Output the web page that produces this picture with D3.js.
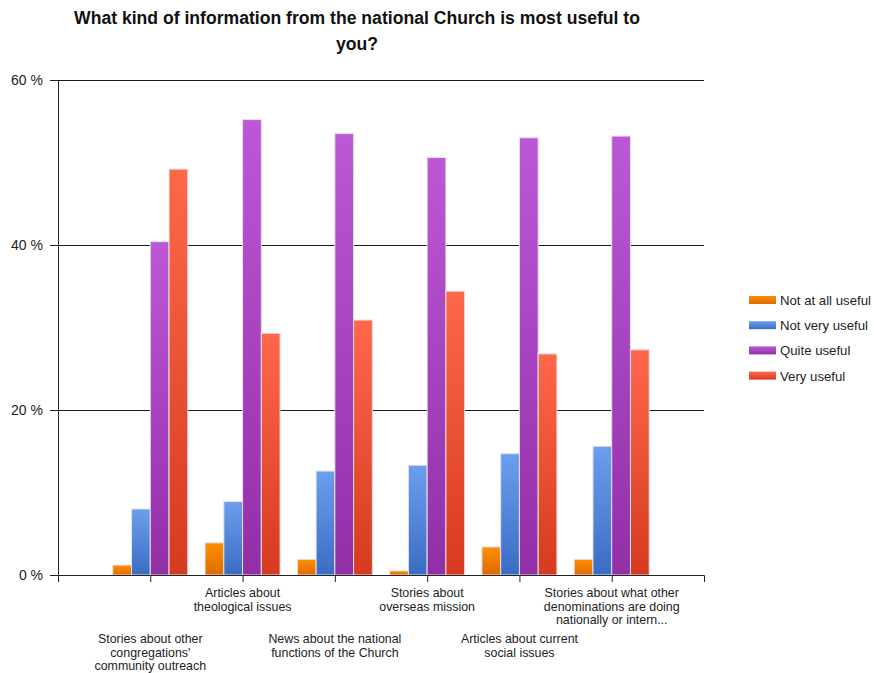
<!DOCTYPE html>
<html>
<head>
<meta charset="utf-8">
<script src="https://cdn.jsdelivr.net/npm/d3@7"></script>
<style>
  html, body { margin: 0; padding: 0; background: #fff; }
  svg { display: block; font-family: "Liberation Sans", Arial, sans-serif; }
</style>
</head>
<body>
<svg id="chart" width="874" height="673"></svg>
<script>
const titleLines = ["What kind of information from the national Church is most useful to", "you?"];
const categories = [
  "Stories about other congregations' community outreach",
  "Articles about theological issues",
  "News about the national functions of the Church",
  "Stories about overseas mission",
  "Articles about current social issues",
  "Stories about what other denominations are doing nationally or intern..."
];
const categoryLabelLines = [
  ["Stories about other", "congregations'", "community outreach"],
  ["Articles about", "theological issues"],
  ["News about the national", "functions of the Church"],
  ["Stories about", "overseas mission"],
  ["Articles about current", "social issues"],
  ["Stories about what other", "denominations are doing", "nationally or intern..."]
];
const seriesNames = ["Not at all useful", "Not very useful", "Quite useful", "Very useful"];
const notAtAllUseful = [1.2, 3.9, 1.9, 0.5, 3.4, 1.9];
const notVeryUseful  = [8.0, 8.9, 12.6, 13.3, 14.7, 15.6];
const quiteUseful    = [40.4, 55.2, 53.5, 50.6, 53.0, 53.2];
const veryUseful     = [49.2, 29.3, 30.9, 34.4, 26.8, 27.3];
const yTicks = [0, 20, 40, 60];
const seriesColors = [
  ["#ff8f00", "#e06a00"],
  ["#6c9eee", "#3b6cc4"],
  ["#bc58d6", "#922ea6"],
  ["#ff674b", "#d63a1f"]
];

const seriesValues = [notAtAllUseful, notVeryUseful, quiteUseful, veryUseful];

const svg = d3.select("#chart");
const plotLeft = 58, plotRight = 704, plotTop = 80, plotBottom = 575;

const x = d3.scalePoint().domain(categories).range([plotLeft, plotRight]).padding(1);
const xSub = d3.scaleBand().domain(seriesNames).range([-37.5, 37.5]).padding(0);
const y = d3.scaleLinear().domain([0, 60]).range([plotBottom, plotTop]);

// gradients
const defs = svg.append("defs");
seriesNames.forEach((s, i) => {
  const g = defs.append("linearGradient").attr("id", "grad" + i)
    .attr("x1", 0).attr("y1", 0).attr("x2", 0).attr("y2", 1);
  g.append("stop").attr("offset", "0%").attr("stop-color", seriesColors[i][0]);
  g.append("stop").attr("offset", "100%").attr("stop-color", seriesColors[i][1]);
});

// title
svg.append("text")
  .attr("x", 357).attr("y", 24)
  .attr("text-anchor", "middle")
  .attr("font-size", 17.6).attr("font-weight", "bold").attr("fill", "#111")
  .selectAll("tspan").data(titleLines).join("tspan")
  .attr("x", 357).attr("dy", (d, i) => i === 0 ? 0 : 26)
  .text(d => d);

// y axis with gridlines
const yAxis = d3.axisLeft(y).tickValues(yTicks).tickFormat(d => d + " %").tickSize(8).tickSizeOuter(0);
const yg = svg.append("g").attr("transform", `translate(${plotLeft},0)`).call(yAxis);
yg.select(".domain").attr("stroke", "#222");
yg.selectAll(".tick line").attr("stroke", "#222");
yg.selectAll(".tick text").attr("font-size", 14).attr("fill", "#222")
  .attr("font-family", "'Liberation Sans', Arial, sans-serif").attr("x", -15);

svg.append("g").selectAll("line").data(yTicks.filter(d => d > 0)).join("line")
  .attr("x1", plotLeft).attr("x2", plotRight)
  .attr("y1", d => Math.round(y(d)) + 0.5).attr("y2", d => Math.round(y(d)) + 0.5)
  .attr("stroke", "#1a1a1a").attr("stroke-width", 1.2);

// bars
const groups = svg.append("g").selectAll("g").data(categories).join("g")
  .attr("transform", d => `translate(${x(d)},0)`);
groups.selectAll("rect")
  .data((d, ci) => seriesNames.map((s, si) => ({ s, si, v: seriesValues[si][ci] })))
  .join("rect")
  .attr("x", d => xSub(d.s))
  .attr("width", xSub.bandwidth())
  .attr("y", d => y(d.v))
  .attr("height", d => y(0) - y(d.v))
  .attr("fill", d => `url(#grad${d.si})`)
  .attr("stroke", "#e2e2e2").attr("stroke-width", 1);

// x axis
const xAxis = d3.axisBottom(x).tickSize(7).tickSizeOuter(7).tickFormat("");
const xg = svg.append("g").attr("transform", `translate(0,${plotBottom})`).call(xAxis);
xg.select(".domain").attr("stroke", "#222");
xg.selectAll(".tick line").attr("stroke", "#222");
svg.append("line").attr("x1", plotLeft - 8).attr("x2", plotLeft).attr("y1", plotBottom + 0.5).attr("y2", plotBottom + 0.5).attr("stroke", "#222");

// x labels (staggered)
const lbl = svg.append("g").selectAll("text").data(categories).join("text")
  .attr("text-anchor", "middle")
  .attr("font-size", 12.4).attr("fill", "#222")
  .attr("transform", (d, i) => `translate(${x(d)},${i % 2 === 1 ? 597 : 643})`);
lbl.selectAll("tspan").data((d, i) => categoryLabelLines[i]).join("tspan")
  .attr("x", 0).attr("dy", (d, i) => i === 0 ? 0 : 13.5).text(d => d);

// legend
const leg = svg.append("g").attr("transform", "translate(749,296)");
const li = leg.selectAll("g").data(seriesNames).join("g")
  .attr("transform", (d, i) => `translate(0,${i * 25.2})`);
li.append("rect").attr("width", 27).attr("height", 8)
  .attr("fill", (d, i) => `url(#grad${i})`);
li.append("text").attr("x", 31).attr("y", 9).attr("font-size", 13.2).attr("fill", "#222").text(d => d);
</script>
</body>
</html>
